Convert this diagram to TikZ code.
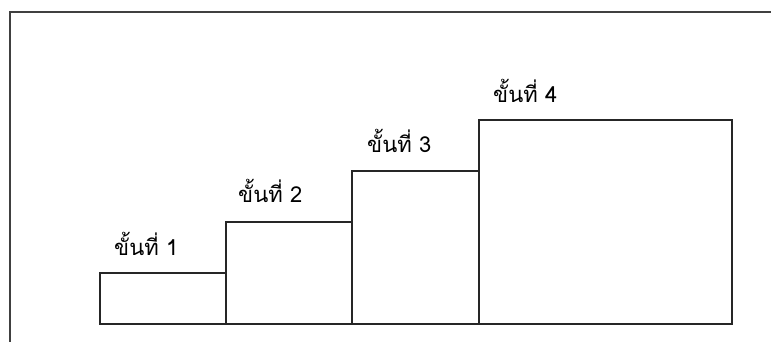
\documentclass[tikz,border=0pt]{standalone}
\usepackage{fontspec}
\newfontfamily\thaifont[Script=Thai]{Loma}
\begin{document}
\begin{tikzpicture}[x=1pt,y=-1pt,
  frame/.style={draw=black!75,line width=1.6pt},
  stepbox/.style={draw=black!85,line width=1.3pt},
  steplabel/.style={anchor=base west,inner sep=0pt,font=\thaifont\fontsize{22}{26}\selectfont}]
\useasboundingbox (0,0) rectangle (771,342);
\draw[frame] (10,342) -- (10,12) -- (771,12);
\draw[stepbox] (100,324) rectangle (226,273);
\draw[stepbox] (226,324) rectangle (352,222);
\draw[stepbox] (352,324) rectangle (479,171);
\draw[stepbox] (479,324) rectangle (732,120);
\node[steplabel] (l1) at (114,255) {ขั้นที่ 1};
\node[steplabel] (l2) at (238,202) {ขั้นที่ 2};
\node[steplabel] (l3) at (367,153) {ขั้นที่ 3};
\node[steplabel] (l4) at (493,103) {ขั้นที่ 4};
\end{tikzpicture}
\end{document}
